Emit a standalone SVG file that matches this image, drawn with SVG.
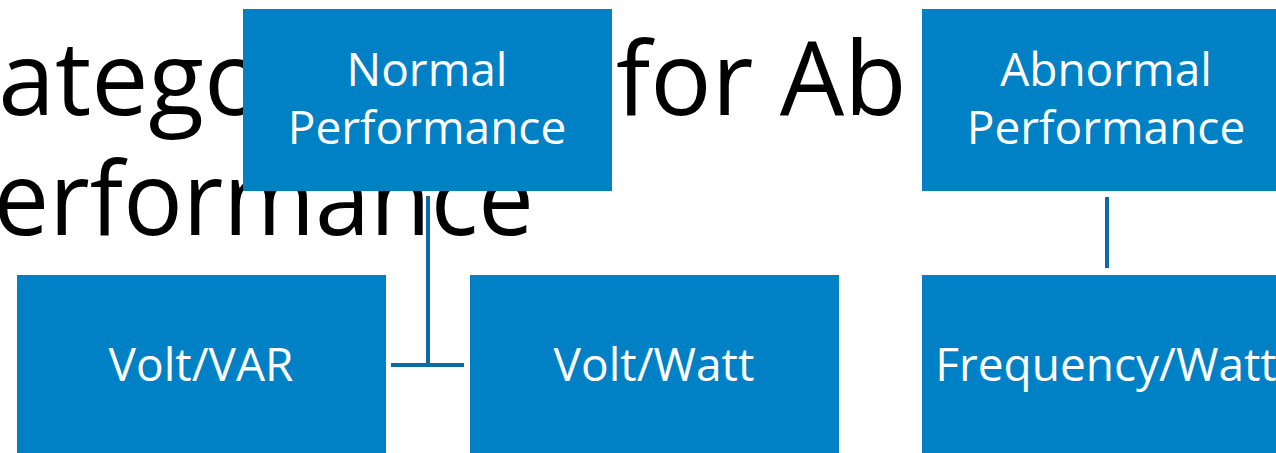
<svg xmlns="http://www.w3.org/2000/svg" width="1276" height="453" viewBox="0 0 1276 453">
<style>
.title{font-family:"Open Sans","Noto Sans","DejaVu Sans",sans-serif;font-size:102px;fill:#000}
.box{fill:#0081C6}
.lbl{font-family:"Open Sans","Noto Sans","DejaVu Sans",sans-serif;font-size:46px;fill:#fff;text-anchor:middle}
.conn{stroke:#0E6AA5;stroke-width:4;fill:none}
</style>
<defs>
<clipPath id="tclip"><rect x="0" y="0" width="908" height="453"/></clipPath>
</defs>
<rect width="1276" height="453" fill="#fff"/>
<g id="title" clip-path="url(#tclip)">
<text class="title" x="-66" y="115">Categories <tspan x="616">for Abnormal</tspan></text>
<text class="title" x="-66" y="235" textLength="600" lengthAdjust="spacingAndGlyphs">Performance</text>
</g>
<g id="connectors">
<path class="conn" d="M428,196 V365 M391,365 H464"/>
<path class="conn" d="M1107,197 V268"/>
</g>
<g id="normal">
<rect class="box" x="243" y="9" width="369" height="182"/>
<text class="lbl" x="427" y="86">Normal</text>
<text class="lbl" x="427" y="144">Performance</text>
</g>
<g id="abnormal">
<rect class="box" x="922" y="9" width="369" height="182"/>
<text class="lbl" x="1106" y="86">Abnormal</text>
<text class="lbl" x="1106" y="144">Performance</text>
</g>
<g id="voltvar">
<rect class="box" x="17" y="275" width="369" height="182"/>
<text class="lbl" x="201" y="381">Volt/VAR</text>
</g>
<g id="voltwatt">
<rect class="box" x="470" y="275" width="369" height="182"/>
<text class="lbl" x="654" y="381">Volt/Watt</text>
</g>
<g id="freqwatt">
<rect class="box" x="922" y="275" width="369" height="182"/>
<text class="lbl" x="1106" y="381">Frequency/Watt</text>
</g>
</svg>
